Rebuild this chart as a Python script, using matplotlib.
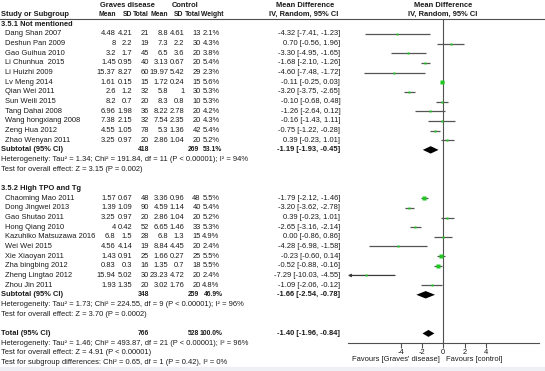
import matplotlib
matplotlib.use('Agg')
import matplotlib.pyplot as plt
from matplotlib import font_manager as fm
from matplotlib.patches import Rectangle

plt.rcParams['font.family'] = ['Liberation Sans', 'DejaVu Sans']

# 3.5.1 Not mentioned
names1 = ['Dang Shan 2007', 'Deshun Pan 2009', 'Gao Guihua 2010', 'Li Chunhua  2015',
          'Li Huizhi 2009', 'Lv Meng 2014', 'Qian Wei 2011', 'Sun Weili 2015',
          'Tang Dahai 2008', 'Wang hongxiang 2008', 'Zeng Hua 2012', 'Zhao Wenyan 2011']
gd_mean1 = [4.48, 8, 3.2, 1.45, 15.37, 1.61, 2.6, 8.2, 6.96, 7.38, 4.55, 3.25]
gd_sd1 = [4.21, 2.2, 1.7, 0.95, 8.27, 0.15, 1.2, 0.7, 1.98, 2.15, 1.05, 0.97]
gd_n1 = [21, 19, 45, 40, 60, 15, 32, 20, 36, 32, 78, 20]
ct_mean1 = [8.8, 7.3, 6.5, 3.13, 19.97, 1.72, 5.8, 8.3, 8.22, 7.54, 5.3, 2.86]
ct_sd1 = [4.61, 2.2, 3.6, 0.67, 5.42, 0.24, 1, 0.8, 2.78, 2.35, 1.36, 1.04]
ct_n1 = [13, 30, 20, 20, 29, 15, 30, 10, 20, 20, 42, 20]
weight1 = [2.1, 4.3, 3.8, 5.4, 2.3, 5.6, 5.3, 5.3, 4.2, 4.3, 5.4, 5.2]
md1 = [-4.32, 0.70, -3.30, -1.68, -4.60, -0.11, -3.20, -0.10, -1.26, -0.16, -0.75, 0.39]
lo1 = [-7.41, -0.56, -4.95, -2.10, -7.48, -0.25, -3.75, -0.68, -2.64, -1.43, -1.22, -0.23]
hi1 = [-1.23, 1.96, -1.65, -1.26, -1.72, 0.03, -2.65, 0.48, 0.12, 1.11, -0.28, 1.01]

# 3.5.2 High TPO and Tg
names2 = ['Chaoming Mao 2011', 'Dong Jingwei 2013', 'Gao Shutao 2011', 'Hong Qiang 2010',
          'Kazuhiko Matsuzawa 2016', 'Wei Wei 2015', 'Xie Xiaoyan 2011', 'Zha bingbing 2012',
          'Zheng Lingtao 2012', 'Zhou Jin 2011']
gd_mean2 = [1.57, 1.39, 3.25, 4, 6.8, 4.56, 1.43, 0.83, 15.94, 1.93]
gd_sd2 = [0.67, 1.09, 0.97, 0.42, 1.5, 4.14, 0.91, 0.3, 5.02, 1.35]
gd_n2 = [48, 90, 20, 52, 28, 19, 25, 16, 30, 20]
ct_mean2 = [3.36, 4.59, 2.86, 6.65, 6.8, 8.84, 1.66, 1.35, 23.23, 3.02]
ct_sd2 = [0.96, 1.14, 1.04, 1.46, 1.3, 4.45, 0.27, 0.7, 4.72, 1.76]
ct_n2 = [48, 40, 20, 33, 15, 20, 25, 18, 20, 20]
weight2 = [5.5, 5.4, 5.2, 5.3, 4.9, 2.4, 5.5, 5.5, 2.4, 4.8]
md2 = [-1.79, -3.20, 0.39, -2.65, 0.00, -4.28, -0.23, -0.52, -7.29, -1.09]
lo2 = [-2.12, -3.62, -0.23, -3.16, -0.86, -6.98, -0.60, -0.88, -10.03, -2.06]
hi2 = [-1.46, -2.78, 1.01, -2.14, 0.86, -1.58, 0.14, -0.16, -4.55, -0.12]

# subtotals and total
pooled_gd_n = [418, 348, 766]
pooled_ct_n = [269, 259, 528]
pooled_weight = [53.1, 46.9, 100.0]
pooled_md = [-1.19, -1.66, -1.40]
pooled_lo = [-1.93, -2.54, -1.96]
pooled_hi = [-0.45, -0.78, -0.84]

het1 = ['Heterogeneity: Tau\u00b2 = 1.34; Chi\u00b2 = 191.84, df = 11 (P < 0.00001); I\u00b2 = 94%',
        'Test for overall effect: Z = 3.15 (P = 0.002)']
het2 = ['Heterogeneity: Tau\u00b2 = 1.73; Chi\u00b2 = 224.55, df = 9 (P < 0.00001); I\u00b2 = 96%',
        'Test for overall effect: Z = 3.70 (P = 0.0002)']
het_total = ['Heterogeneity: Tau\u00b2 = 1.46; Chi\u00b2 = 493.87, df = 21 (P < 0.00001); I\u00b2 = 96%',
             'Test for overall effect: Z = 4.91 (P < 0.00001)',
             'Test for subgroup differences: Chi\u00b2 = 0.65, df = 1 (P = 0.42), I\u00b2 = 0%']

xticks = [-4, -2, 0, 2, 4]

W, H = 545, 371
fs = 5.4
tc = '#1a1a1a'
lc = '#505050'

# narrower face for the bold number columns, if one is installed
nprop = fm.FontProperties(family='Liberation Sans', stretch='condensed', weight='bold')
if 'Narrow' in fm.findfont(nprop):
    nfs = 5.6
else:
    nprop = fm.FontProperties(family='Liberation Sans', weight='bold')
    nfs = 4.9

fig = plt.figure(figsize=(W / 100, H / 100), dpi=100)
ax = fig.add_axes([0, 0, 1, 1])
ax.set_xlim(0, W)
ax.set_ylim(H, 0)
ax.axis('off')

# forest panel, pixels 347.8 .. 538.8 map to -9 .. 9
fx = fig.add_axes([347.8 / W, 0, (538.8 - 347.8) / W, 1])
fx.set_xlim(-9, 9)
fx.set_ylim(H, 0)
fx.patch.set_visible(False)
for s in ['left', 'right', 'top']:
    fx.spines[s].set_visible(False)
fx.spines['bottom'].set_position(('data', 343.3))
fx.spines['bottom'].set_color(lc)
fx.spines['bottom'].set_linewidth(0.8)
fx.set_yticks([])
fx.set_xticks(xticks)
fx.set_xticklabels([f'{t:g}' for t in xticks])
fx.tick_params(axis='x', length=3.6, width=0.8, color=lc, pad=0.6,
               labelsize=fs, labelcolor=tc)

# column right edges
c_gm, c_gs, c_gn = 115.7, 132.3, 149.2
c_cm, c_cs, c_cn = 168.3, 184.2, 200.8
c_w, c_ci = 219.5, 340.3

ROW0, STEP = 24.3, 9.66


def ry(r):
    return ROW0 + r * STEP


def txt(x, y, s, ha='left', bold=False):
    ax.text(x, y, s, ha=ha, va='center', fontsize=fs, color=tc,
            fontweight='bold' if bold else 'normal')


def ntxt(x, y, s):
    # bold number / column header, right aligned
    p = nprop.copy()
    p.set_size(nfs)
    ax.text(x, y, s, ha='right', va='center', color=tc, fontproperties=p)


# header
txt(127.8, 5.3, 'Graves disease', 'center', True)
txt(185.0, 5.3, 'Control', 'center', True)
txt(305.0, 5.3, 'Mean Difference', 'center', True)
txt(442.8, 5.3, 'Mean Difference', 'center', True)
txt(1, 14.8, 'Study or Subgroup', bold=True)
for x, s in zip([c_gm, c_gs, c_gn, c_cm, c_cs - 0.5, c_cn, c_w + 4],
                ['Mean', 'SD', 'Total', 'Mean', 'SD', 'Total', 'Weight']):
    ntxt(x, 14.8, s)
txt(303.3, 14.8, 'IV, Random, 95% CI', 'center', True)
txt(442.8, 14.8, 'IV, Random, 95% CI', 'center', True)
ax.plot([0, W], [19.3, 19.3], color=lc, lw=0.8)

groups = [
    ('3.5.1 Not mentioned', names1, gd_mean1, gd_sd1, gd_n1, ct_mean1, ct_sd1, ct_n1,
     weight1, md1, lo1, hi1, het1, 0),
    ('3.5.2 High TPO and Tg', names2, gd_mean2, gd_sd2, gd_n2, ct_mean2, ct_sd2, ct_n2,
     weight2, md2, lo2, hi2, het2, 17),
]

for gi, (title, nm, gm, gs, gn, cm, cs, cn, w, md, lo, hi, het, r0) in enumerate(groups):
    txt(1, ry(r0), title, bold=True)
    for i in range(len(nm)):
        y = ry(r0 + 1 + i)
        txt(4.7, y, nm[i])
        txt(c_gm, y, f'{gm[i]:g}', 'right')
        txt(c_gs, y, f'{gs[i]:g}', 'right')
        txt(c_gn, y, f'{gn[i]}', 'right')
        txt(c_cm, y, f'{cm[i]:g}', 'right')
        txt(c_cs, y, f'{cs[i]:g}', 'right')
        txt(c_cn, y, f'{cn[i]}', 'right')
        txt(c_w, y, f'{w[i]:.1f}%', 'right')
        txt(c_ci, y, f'{md[i]:.2f} [{lo[i]:.2f}, {hi[i]:.2f}]', 'right')
        if lo[i] < -9:
            fx.annotate('', xy=(-9, y), xytext=(hi[i], y),
                        arrowprops=dict(arrowstyle='-|>', color='#3a3a3a', lw=0.9,
                                        mutation_scale=4, shrinkA=0, shrinkB=0))
        else:
            fx.plot([lo[i], hi[i]], [y, y], color='#555555', lw=0.9, solid_capstyle='butt')
        fx.plot(md[i], y, 's', ms=0.9 + 0.23 * w[i], color='#1fc81f', mec='none', zorder=3)
    rs = r0 + 1 + len(nm)
    y = ry(rs)
    txt(1, y, 'Subtotal (95% CI)', bold=True)
    ntxt(c_gn, y, f'{pooled_gd_n[gi]}')
    ntxt(c_cn - 1.5, y, f'{pooled_ct_n[gi]}')
    ntxt(c_w + 3, y, f'{pooled_weight[gi]:.1f}%')
    txt(c_ci, y, f'{pooled_md[gi]:.2f} [{pooled_lo[gi]:.2f}, {pooled_hi[gi]:.2f}]', 'right', True)
    fx.fill([pooled_lo[gi], pooled_md[gi], pooled_hi[gi], pooled_md[gi]],
            [y, y - 3.7, y, y + 3.7], color='black', lw=0)
    for k, s in enumerate(het):
        txt(1, ry(rs + 1 + k), s)

# overall total
y = ry(32)
txt(1, y, 'Total (95% CI)', bold=True)
ntxt(c_gn, y, f'{pooled_gd_n[2]}')
ntxt(c_cn - 1.5, y, f'{pooled_ct_n[2]}')
ntxt(c_w + 3, y, f'{pooled_weight[2]:.1f}%')
txt(c_ci, y, f'{pooled_md[2]:.2f} [{pooled_lo[2]:.2f}, {pooled_hi[2]:.2f}]', 'right', True)
fx.fill([pooled_lo[2], pooled_md[2], pooled_hi[2], pooled_md[2]],
        [y, y - 3.5, y, y + 3.5], color='black', lw=0)
for k, s in enumerate(het_total):
    txt(1, ry(33 + k), s)

# zero line
fx.plot([0, 0], [19.3, 343.3], color=lc, lw=0.8, zorder=1)

txt(440.0, 359.6, "Favours [Graves' disease]", 'right')
txt(446.0, 359.6, 'Favours [control]', 'left')

ax.add_patch(Rectangle((0, 366.6), W, H - 366.6, color='#eff0f6', zorder=5, lw=0))

fig.savefig('out.png', dpi=100)
